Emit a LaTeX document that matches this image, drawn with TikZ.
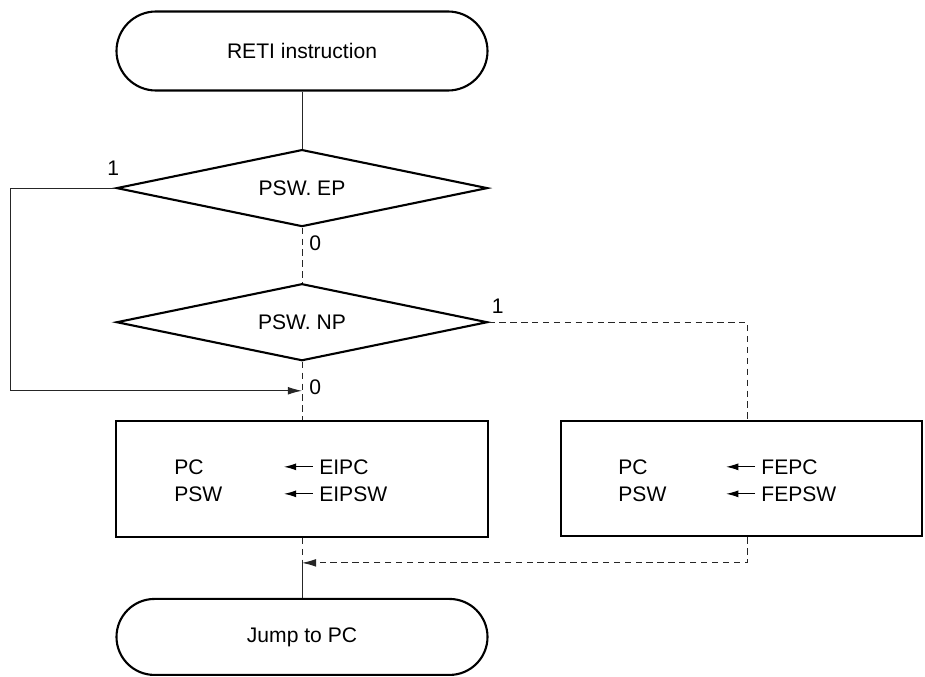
\documentclass[tikz,border=0pt]{standalone}
\usepackage{fontspec}
\setmainfont{Liberation Sans}
\usetikzlibrary{positioning,arrows.meta,shapes.geometric,shapes.misc}
\tikzset{
    term/.style={rounded rectangle,draw,line width=1.2pt,minimum width=7.42cm,minimum height=1.56cm,inner sep=0pt},
    decide/.style={diamond,aspect=4.8,draw,line width=1.2pt,minimum width=7.42cm,minimum height=1.54cm,inner sep=0pt},
    proc/.style={rectangle,draw,line width=1.2pt,minimum width=7.44cm,minimum height=2.32cm,inner sep=0pt},
    flow/.style={draw,line width=0.55pt,black!85},
    dflow/.style={flow,dash pattern=on 3.6pt off 2.6pt},
    tip/.style={-{Latex[length=8pt,width=4.4pt]}},
    lbl/.style={inner sep=0pt},
    reg/.style={lbl,anchor=west},
    setarrow/.style={line width=0.6pt,-{Latex[length=7pt,width=4pt]}},
}

\begin{document}
\begin{tikzpicture}[font=\fontsize{12}{14}\selectfont]
    \useasboundingbox (0,0) rectangle (18.5,-13.54);
    \node[term,minimum height=1.58cm] (start) at (6.04,-1.02) {RETI instruction};
    \node[decide,below=1.14cm of start] (ep) {PSW. EP};
    \node[decide,below=1.10cm of ep] (np) {PSW. NP};
    \node[proc,below=1.16cm of np] (ebox) {};
    \node[proc,right=1.42cm of ebox,minimum width=7.22cm,minimum height=2.3cm] (fbox) {};
    \node[term,below=1.20cm of ebox,minimum height=1.52cm] (stop) {Jump to PC};

    \node[reg] (epc) at ([xshift=1.18cm,yshift=0.24cm]ebox.west) {PC};
    \node[reg] (epsw) at ([xshift=1.18cm,yshift=-0.3cm]ebox.west) {PSW};
    \node[reg] (eipc) at ([xshift=4.08cm,yshift=0.24cm]ebox.west) {EIPC};
    \node[reg] (eipsw) at ([xshift=4.08cm,yshift=-0.3cm]ebox.west) {EIPSW};
    \node[reg] (fpc) at ([xshift=1.16cm,yshift=0.24cm]fbox.west) {PC};
    \node[reg] (fpsw) at ([xshift=1.16cm,yshift=-0.3cm]fbox.west) {PSW};
    \node[reg] (fepc) at ([xshift=4.02cm,yshift=0.24cm]fbox.west) {FEPC};
    \node[reg] (fepsw) at ([xshift=4.02cm,yshift=-0.3cm]fbox.west) {FEPSW};

    \coordinate (join0) at ([yshift=0.58cm]ebox.north);
    \coordinate (join1) at ([yshift=-0.5cm]ebox.south);
    \coordinate (ftop) at ([xshift=0.11cm]fbox.north);
    \coordinate (fbot) at ([xshift=0.11cm]fbox.south);

    \node[lbl,anchor=south east] (ep1) at ([xshift=0.08cm,yshift=0.24cm]ep.west) {1};
    \node[lbl,anchor=north west] (ep0) at ([xshift=0.14cm,yshift=-0.15cm]ep.south) {0};
    \node[lbl,anchor=south west] (np1) at ([xshift=0.06cm,yshift=0.16cm]np.east) {1};
    \node[lbl,anchor=west] (np0) at ([xshift=0.14cm,yshift=0.08cm]join0) {0};

    \draw[flow] (start.south) -- (ep.north);
    \draw[flow,tip] (ep.west) -- ++(-2.1cm,0) |- (join0);
    \draw[dflow] (ep.south) -- (np.north);
    \draw[dflow] (np.south) -- (ebox.north);
    \draw[dflow] (np.east) -| (ftop);
    \draw[dflow] (ebox.south) -- (join1);
    \draw[dflow,tip] (fbot) |- (join1);
    \draw[flow] (join1) -- (stop.north);

    \draw[setarrow] ([xshift=-0.12cm]eipc.west) -- ++(-0.58cm,0);
    \draw[setarrow] ([xshift=-0.12cm]eipsw.west) -- ++(-0.58cm,0);
    \draw[setarrow] ([xshift=-0.12cm]fepc.west) -- ++(-0.58cm,0);
    \draw[setarrow] ([xshift=-0.12cm]fepsw.west) -- ++(-0.58cm,0);
\end{tikzpicture}
\end{document}
